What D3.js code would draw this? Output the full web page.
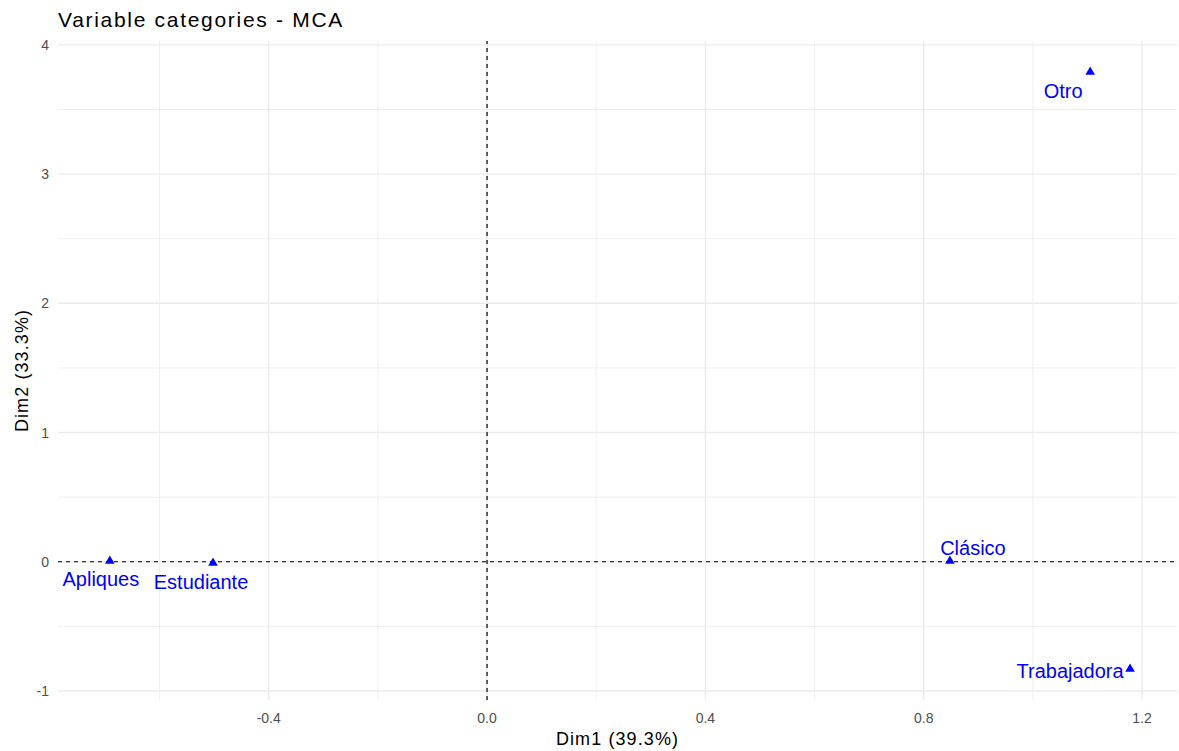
<!DOCTYPE html>
<html>
<head>
<meta charset="utf-8">
<script src="https://cdn.jsdelivr.net/npm/d3@7"></script>
<style>
  body { margin: 0; background: #fff; }
  text { font-family: "Liberation Sans", Arial, sans-serif; }
</style>
</head>
<body>
<div id="chart"></div>
<script>
// category coordinates on the first two dimensions
var categories = ["Apliques", "Estudiante", "Clásico", "Otro", "Trabajadora"];
var dim1 = [-0.691, -0.502, 0.848, 1.105, 1.178];
var dim2 = [0.005, -0.01, 0.005, 3.79, -0.83];
var xTicks = [-0.4, 0.0, 0.4, 0.8, 1.2];
var yTicks = [-1, 0, 1, 2, 3, 4];

// label nudges (px) as placed by the repel step
var labelNudge = {
  "Apliques":    [-9, 25],
  "Estudiante":  [-12, 26],
  "Clásico":     [23, -6],
  "Otro":        [-27, 26],
  "Trabajadora": [-60, 9]
};

var W = 1179, H = 751;
var margin = {top: 41, right: 2, bottom: 51, left: 58};

var svg = d3.select("#chart").append("svg")
  .attr("width", W).attr("height", H);

var x = d3.scaleLinear().domain([-0.786, 1.264]).range([margin.left, W - margin.right]);
var y = d3.scaleLinear().domain([-1.07, 4.03]).range([H - margin.bottom, margin.top]);

var g = svg.append("g");

// minor grid
var xMinor = [-0.6, -0.2, 0.2, 0.6, 1.0];
var yMinor = [-0.5, 0.5, 1.5, 2.5, 3.5];
g.selectAll(".xminor").data(xMinor).enter().append("line")
  .attr("x1", d => x(d)).attr("x2", d => x(d))
  .attr("y1", y.range()[0]).attr("y2", y.range()[1])
  .attr("stroke", "#ebebeb").attr("stroke-width", 0.8);
g.selectAll(".yminor").data(yMinor).enter().append("line")
  .attr("y1", d => y(d)).attr("y2", d => y(d))
  .attr("x1", x.range()[0]).attr("x2", x.range()[1])
  .attr("stroke", "#ebebeb").attr("stroke-width", 0.8);

// major grid
g.selectAll(".xmajor").data(xTicks).enter().append("line")
  .attr("x1", d => x(d)).attr("x2", d => x(d))
  .attr("y1", y.range()[0]).attr("y2", y.range()[1])
  .attr("stroke", "#ebebeb").attr("stroke-width", 1.4);
g.selectAll(".ymajor").data(yTicks).enter().append("line")
  .attr("y1", d => y(d)).attr("y2", d => y(d))
  .attr("x1", x.range()[0]).attr("x2", x.range()[1])
  .attr("stroke", "#ebebeb").attr("stroke-width", 1.4);

// tick labels
svg.selectAll(".xt").data(xTicks).enter().append("text")
  .attr("x", d => x(d)).attr("y", H - margin.bottom + 23)
  .attr("text-anchor", "middle").attr("font-size", "14px").attr("fill", "#4d4d4d")
  .text(d => d.toFixed(1));
svg.selectAll(".yt").data(yTicks).enter().append("text")
  .attr("x", margin.left - 9).attr("y", d => y(d) + 5)
  .attr("text-anchor", "end").attr("font-size", "14px").attr("fill", "#4d4d4d")
  .text(d => d);

// zero reference lines
g.append("line")
  .attr("x1", x.range()[0]).attr("x2", x.range()[1])
  .attr("y1", y(0)).attr("y2", y(0))
  .attr("stroke", "black").attr("stroke-width", 1.2).attr("stroke-dasharray", "4,4");
g.append("line")
  .attr("x1", x(0)).attr("x2", x(0))
  .attr("y1", y.range()[0]).attr("y2", y.range()[1])
  .attr("stroke", "black").attr("stroke-width", 1.2).attr("stroke-dasharray", "4,4");

var pts = categories.map((c, i) => ({name: c, x: dim1[i], y: dim2[i]}));

// points
g.selectAll(".pt").data(pts).enter().append("path")
  .attr("d", d3.symbol().type(d3.symbolTriangle).size(40))
  .attr("transform", d => `translate(${x(d.x)},${y(d.y)})`)
  .attr("fill", "#0000ff");

// labels
g.selectAll(".lab").data(pts).enter().append("text")
  .attr("x", d => x(d.x) + labelNudge[d.name][0])
  .attr("y", d => y(d.y) + labelNudge[d.name][1])
  .attr("text-anchor", "middle")
  .attr("font-size", "20px")
  .attr("fill", "#0000ff")
  .text(d => d.name);

// axis titles
svg.append("text")
  .attr("x", (x.range()[0] + x.range()[1]) / 2).attr("y", H - 6)
  .attr("text-anchor", "middle").attr("font-size", "18px").attr("fill", "black")
  .attr("letter-spacing", "1.1px")
  .text("Dim1 (39.3%)");
svg.append("text")
  .attr("transform", `translate(28,${(y.range()[0] + y.range()[1]) / 2}) rotate(-90)`)
  .attr("text-anchor", "middle").attr("font-size", "18px").attr("fill", "black")
  .attr("letter-spacing", "1.1px")
  .text("Dim2 (33.3%)");

// title
svg.append("text")
  .attr("x", 58).attr("y", 27)
  .attr("font-size", "21px").attr("fill", "black")
  .attr("letter-spacing", "1.7px")
  .text("Variable categories - MCA");
</script>
</body>
</html>
